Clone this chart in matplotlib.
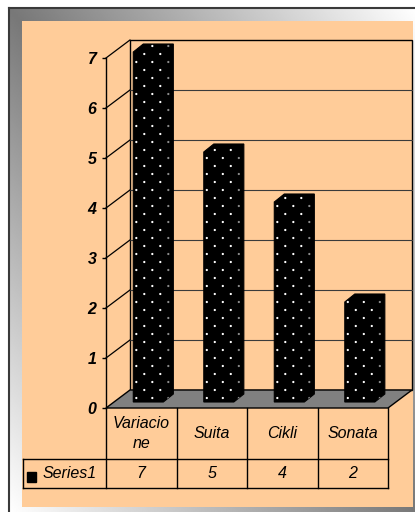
import textwrap
import numpy as np
import matplotlib.pyplot as plt
from matplotlib.patches import Rectangle, Polygon

plt.rcParams['font.family'] = ['Liberation Sans', 'DejaVu Sans']

categories = ['Variacione', 'Suita', 'Cikli', 'Sonata']
values = [7, 5, 4, 2]
series_name = 'Series1'
yticks = list(range(8))

W, H = 415, 512
PEACH = '#FFCC99'

# depth of the box and of each column, in data units
DX, DY = 0.34, 0.36
BDX, BDY = 0.142, 0.16
SHIFT_X, SHIFT_Y = 0.1, 0.12
HALF_W = 0.213

fig = plt.figure(figsize=(W / 100, H / 100), dpi=100)

# frame with a diagonal grey gradient and the peach chart area
bg = fig.add_axes([0, 0, 1, 1])
bg.set_xlim(0, W)
bg.set_ylim(H, 0)
bg.axis('off')
U, V = np.meshgrid(np.linspace(0, 1, 200), np.linspace(0, 1, 200))
shade = 0.47 + 0.53 * np.abs(U - V)
bg.imshow(shade, cmap='gray', vmin=0, vmax=1, extent=(9, W, H, 8),
          aspect='auto', interpolation='bilinear')
bg.plot([9, 9], [H, 8], color='#3a3a3a', lw=1.5)
bg.plot([9, W], [8, 8], color='#3a3a3a', lw=1.5)
bg.add_patch(Rectangle((22, 21), 391, 486, fc=PEACH, ec='none'))

ax = fig.add_axes([106 / W, 1 - 408 / H, 282 / W, 350 / H])
ax.set_xlim(-0.5, len(categories) - 0.5)
ax.set_ylim(0, 7)
ax.patch.set_visible(False)
for side in ['top', 'right', 'bottom']:
    ax.spines[side].set_visible(False)
ax.spines['left'].set_linewidth(1)
ax.set_xticks([])
ax.set_yticks(yticks)
ax.set_yticklabels([str(t) for t in yticks], fontsize=11.5,
                   fontweight='bold', fontstyle='italic')
ax.tick_params(axis='y', length=3, width=1, pad=4)

n = len(categories)
x0, x1 = -0.5, n - 0.5

# back wall, grid and side-wall diagonals
ax.add_patch(Rectangle((x0 + DX, DY), n, 7, fill=False, ec='k', lw=1,
                       clip_on=False, zorder=1))
for t in yticks[1:-1]:
    ax.plot([x0 + DX, x1 + DX], [t + DY, t + DY], color='#3a3a3a', lw=0.8,
            clip_on=False, zorder=1)
for t in yticks[1:]:
    ax.plot([x0, x0 + DX], [t, t + DY], color='k', lw=0.9,
            clip_on=False, zorder=1)

# floor
ax.add_patch(Polygon([(x0, 0), (x1, 0), (x1 + DX, DY), (x0 + DX, DY)],
                     closed=True, fc='#808080', ec='k', lw=1,
                     clip_on=False, zorder=2))

# columns with a dotted fill
for i, val in enumerate(values):
    L = i + SHIFT_X - HALF_W
    R = i + SHIFT_X + HALF_W
    b = SHIFT_Y
    t = val + SHIFT_Y
    outline = Polygon([(L, b), (L, t), (L + BDX, t + BDY), (R + BDX, t + BDY),
                       (R + BDX, b + BDY), (R, b)],
                      closed=True, fc='k', ec='k', lw=0.8,
                      clip_on=False, zorder=3)
    ax.add_patch(outline)

    xs, ys, cs = [], [], []
    rows = np.arange(b + 0.08, t + BDY, 0.16)
    for r, yy in enumerate(rows):
        cols = np.arange(L + 0.043 + (r % 2) * 0.113, R + BDX, 0.227)
        for xx in cols:
            xs.append(xx)
            ys.append(yy)
            cs.append('white' if xx < R else '#8c8c8c')
    sc = ax.scatter(xs, ys, s=2.6, c=cs, linewidths=0, zorder=4)
    sc.set_clip_path(outline)
    sc.set_clip_box(None)

# data table under the floor
row1 = -1.02
row2 = -1.6
left = x0 - 83 / 70.5
line_kw = dict(color='k', lw=1, clip_on=False, zorder=2)
ax.plot([left, x1], [row1, row1], **line_kw)
ax.plot([left, x1], [row2, row2], **line_kw)
ax.plot([left, left], [row1, row2], **line_kw)
for xv in np.arange(x0, x1 + 0.01, 1.0):
    ax.plot([xv, xv], [0, row2], **line_kw)

for i, name in enumerate(categories):
    label = '\n'.join(textwrap.wrap(name, 8, break_long_words=True))
    ax.text(i, row1 / 2, label, ha='center', va='center', fontsize=11.5,
            fontstyle='italic', linespacing=1.45, clip_on=False)
    ax.text(i, (row1 + row2) / 2, str(values[i]), ha='center', va='center',
            fontsize=11.5, fontstyle='italic', clip_on=False)

ax.add_patch(Rectangle((x0 - 79 / 70.5, -1.48), 9 / 70.5, 0.2, fc='k', ec='k',
                       clip_on=False))
ax.text(x0 - 63 / 70.5, (row1 + row2) / 2, series_name, ha='left',
        va='center', fontsize=11.5, fontstyle='italic', clip_on=False)

fig.savefig('out.png', dpi=100)
